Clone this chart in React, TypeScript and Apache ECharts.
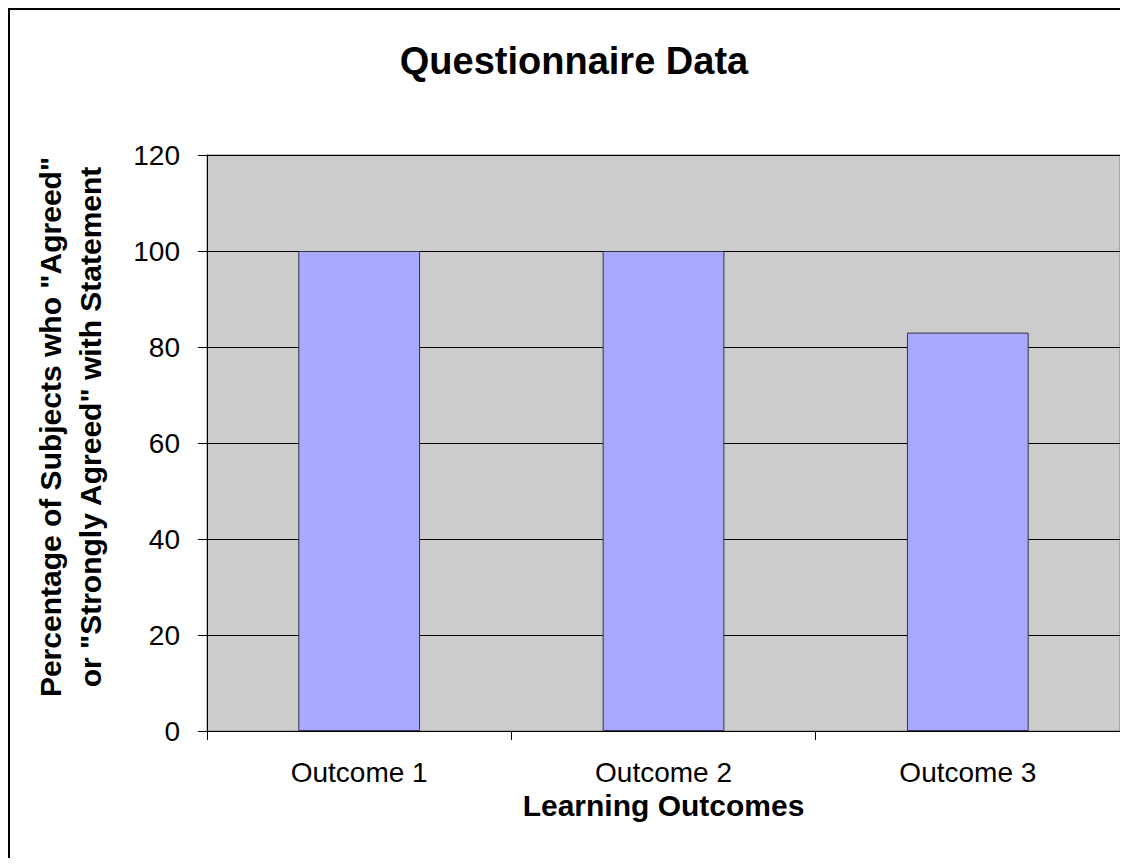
import React, { useEffect, useRef } from "react";
import * as echarts from "echarts";

const categories = ["Outcome 1", "Outcome 2", "Outcome 3"];
const values = [100, 100, 83];
const yMin = 0;
const yMax = 120;
const yInterval = 20;

const chartTitle = "Questionnaire Data";
const xAxisName = "Learning Outcomes";
const yAxisName = 'Percentage of Subjects who "Agreed"\nor "Strongly Agreed" with Statement';

const FONT = "'Liberation Sans', Arial, sans-serif";

export default function App() {
  const ref = useRef<HTMLDivElement>(null);
  useEffect(() => {
    if (!ref.current) return;
    const chart = echarts.init(ref.current, undefined, { renderer: "svg" });
    chart.setOption({
      animation: false,
      backgroundColor: "#ffffff",
      title: {
        text: chartTitle,
        left: 561,
        textAlign: "center",
        top: 29,
        textStyle: { fontFamily: FONT, fontSize: 38, fontWeight: "bold", color: "#000" },
      },
      grid: {
        left: 199,
        top: 147,
        right: 88,
        bottom: 227,
        show: true,
        backgroundColor: "#cccccc",
        borderColor: "#808080",
        borderWidth: 1,
      },
      graphic: [
        {
          type: "line",
          shape: { x1: 1, y1: 1, x2: 1, y2: 950 },
          style: { stroke: "#000", lineWidth: 2 },
          silent: true,
        },
        {
          type: "line",
          shape: { x1: 0, y1: 1, x2: 1200, y2: 1 },
          style: { stroke: "#000", lineWidth: 2 },
          silent: true,
        },
        {
          type: "text",
          x: 62,
          y: 419,
          rotation: Math.PI / 2,
          style: {
            text: yAxisName,
            fontFamily: FONT,
            fontSize: 30,
            fontWeight: "bold",
            lineHeight: 40,
            fill: "#000",
            align: "center",
            verticalAlign: "middle",
          },
          silent: true,
        },
      ],
      xAxis: {
        type: "category",
        data: categories,
        name: xAxisName,
        nameLocation: "middle",
        nameGap: 47,
        nameTextStyle: { fontFamily: FONT, fontSize: 30, fontWeight: "bold", color: "#000", verticalAlign: "top" },
        axisLine: { show: true, lineStyle: { color: "#000", width: 1 } },
        axisTick: { show: true, length: 9, lineStyle: { color: "#000" } },
        axisLabel: { fontFamily: FONT, fontSize: 28, color: "#000", margin: 27 },
        splitLine: { show: false },
      },
      yAxis: {
        type: "value",
        min: yMin,
        max: yMax,
        interval: yInterval,
        axisLine: { show: true, lineStyle: { color: "#000", width: 1 } },
        axisTick: { show: true, length: 9, lineStyle: { color: "#000" } },
        axisLabel: { fontFamily: FONT, fontSize: 28, color: "#000", margin: 27 },
        splitLine: { show: true, lineStyle: { color: "#000", width: 1 } },
      },
      series: [
        {
          type: "bar",
          data: values,
          barWidth: "40%",
          itemStyle: { color: "#a8a8ff", borderColor: "#33334d", borderWidth: 1 },
        },
      ],
    });
    return () => chart.dispose();
  }, []);
  return (
    <div style={{ width: 1120, height: 858, marginBottom: -8, overflow: "hidden" }}>
      <div ref={ref} style={{ width: 1200, height: 950 }} />
    </div>
  );
}
